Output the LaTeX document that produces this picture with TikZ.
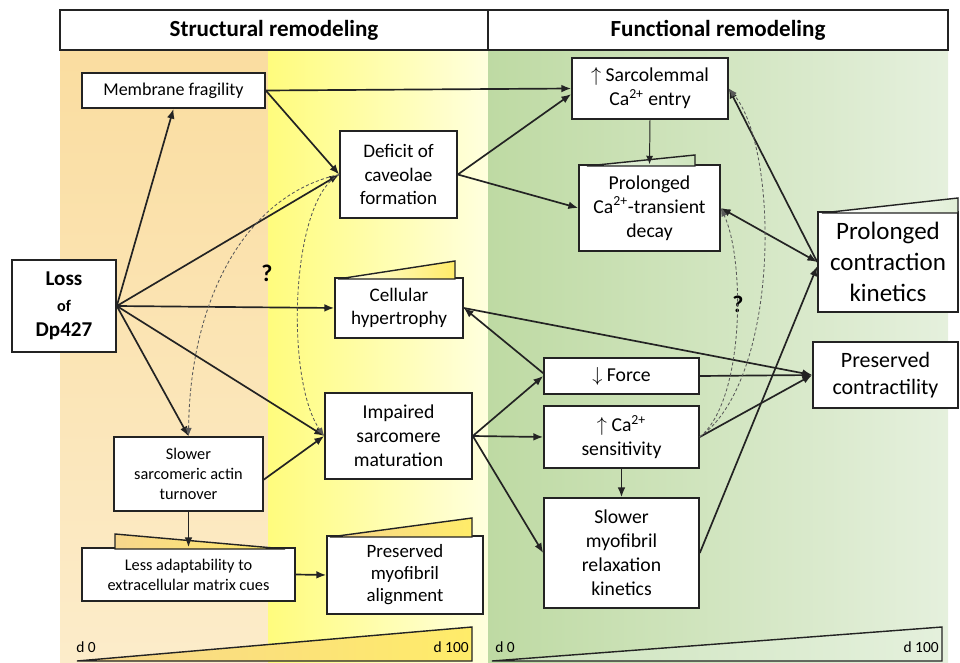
\documentclass[tikz,border=0pt]{standalone}
\usepackage{amsmath}
\usepackage{fontspec}
\setmainfont{Carlito}
\usepackage{tikz}
\usetikzlibrary{arrows,arrows.meta,positioning}
\usepackage{xcolor}
\definecolor{rmorange}{RGB}{250,221,160}
\definecolor{rmorangelight}{RGB}{252,236,202}
\definecolor{rmyellow}{RGB}{255,252,125}
\definecolor{rmyellowlight}{RGB}{255,255,222}
\definecolor{rmgreen}{RGB}{190,218,163}
\definecolor{rmgreenlight}{RGB}{229,240,221}
\definecolor{rmline}{RGB}{35,35,35}
\definecolor{rampyellow}{RGB}{255,236,105}
\definecolor{ramporange}{RGB}{247,214,140}
\definecolor{rampgreen}{RGB}{205,228,188}
\definecolor{rampgreenlight}{RGB}{228,240,220}
\newcommand{\txtsmall}{\fontsize{11.6}{14.2}\selectfont}
\newcommand{\txtmid}{\fontsize{12.8}{15}\selectfont}
\newcommand{\txtbox}{\fontsize{14}{17}\selectfont}
\newcommand{\txtbig}{\fontsize{15.6}{19.5}\selectfont}
\newcommand{\txthuge}{\fontsize{17.8}{22.2}\selectfont}
\tikzstyle{arrow} = [line width=1.2pt,->,>={Latex[length=7pt,width=5.5pt]},color=rmline]
\tikzstyle{twoway} = [line width=1.2pt,<->,>={Latex[length=7pt,width=5.5pt]},color=rmline]
\tikzstyle{thinarrow} = [line width=0.7pt,->,>={Latex[length=6pt,width=5pt]},color=rmline]
\tikzstyle{maybe} = [dashed, dash pattern=on 2.2pt off 1.6pt, line width=0.6pt, ->, >={Latex[length=6pt,width=4.5pt]}, color=black!65]
\tikzstyle{stage} = [rectangle, minimum height=1cm, draw=rmline, fill=white, line width=1.2pt, font=\fontsize{16.4}{19}\selectfont\bfseries]
\tikzstyle{effect} = [rectangle, draw=rmline, fill=white, line width=1.1pt, align=center, inner sep=2pt, font=\txtbox]
\tikzstyle{ramp} = [draw=rmline, line width=1pt]

\begin{document}
\begin{tikzpicture}[x=0.025cm, y=-0.025cm]
    \useasboundingbox (0,0) rectangle (960,663);

    % Backgrounds
    \shade[top color=rmorange, bottom color=rmorangelight] (60,50) rectangle (268,663);
    \shade[left color=rmyellow, right color=rmyellowlight] (268,50) rectangle (488,663);
    \shade[left color=rmgreen, right color=rmgreenlight] (488,50) rectangle (948,663);

    % Headers
    \node[stage, minimum width=10.7cm] (structural) at (274,30) {Structural remodeling};
    \node[stage, minimum width=11.5cm] (functional) at (718,30) {Functional remodeling};

    % Structural side
    \node[effect, minimum width=2.6cm, minimum height=2.3cm, font=\fontsize{15}{18}\selectfont\bfseries] (loss) at (64,306) {Loss\\{\fontsize{11.5}{18}\selectfont of}\\Dp427};
    \node[effect, minimum width=4.575cm, minimum height=0.875cm, font=\txtmid] (memb) at (173.5,90.5) {Membrane fragility};
    \node[effect, minimum width=2.925cm, minimum height=2.175cm, font=\fontsize{13.6}{17}\selectfont] (deficit) at (398.5,174.5) {Deficit of\\caveolae\\formation};
    \node[effect, minimum width=3.2cm, minimum height=1.5cm, font=\fontsize{13.6}{16.4}\selectfont] (hyper) at (399,308) {Cellular\\hypertrophy};
    \node[effect, minimum width=3.675cm, minimum height=2.15cm] (impaired) at (398.5,436) {Impaired\\sarcomere\\maturation};
    \node[effect, minimum width=3.725cm, minimum height=1.85cm, font=\txtsmall] (actin) at (188.5,474) {Slower\\sarcomeric actin\\turnover};
    \node[effect, minimum width=5.325cm, minimum height=1.325cm, font=\txtsmall] (adapt) at (188.5,574.5) {Less adaptability to\\extracellular matrix cues};
    \node[effect, minimum width=3.9cm, minimum height=1.95cm, font=\fontsize{13.4}{15.6}\selectfont] (align) at (405,575) {Preserved\\myofibril\\alignment};

    % Functional side
    \node[effect, minimum width=3.9cm, minimum height=1.525cm] (sarco) at (650,88.5) {$\uparrow$ Sarcolemmal\\Ca\textsuperscript{2+} entry};
    \node[effect, minimum width=3.525cm, minimum height=2.15cm] (transient) at (649.5,208) {Prolonged\\Ca\textsuperscript{2+}-transient\\decay};
    \node[effect, minimum width=3.5cm, minimum height=2.5cm, font=\txthuge] (kinetics) at (888,262) {Prolonged\\contraction\\kinetics};
    \node[effect, minimum width=3.625cm, minimum height=1.65cm, font=\txtbig] (contract) at (885.5,375) {Preserved\\contractility};
    \node[effect, minimum width=3.875cm, minimum height=0.9cm] (force) at (621.5,376) {$\downarrow$ Force};
    \node[effect, minimum width=3.875cm, minimum height=1.55cm] (sens) at (621.5,437) {$\uparrow$ Ca\textsuperscript{2+}\\sensitivity};
    \node[effect, minimum width=3.875cm, minimum height=2.75cm] (relax) at (621.5,553) {Slower\\myofibril\\relaxation\\kinetics};

    % Ramps on boxes
    \shade[ramp, left color=yellow!10, right color=rampyellow] (338,279) -- (455,261) -- (455,279) -- cycle;
    \shade[ramp, left color=rampgreen!40, right color=rampgreen] (587,166) -- (695,155) -- (695,166) -- cycle;
    \shade[ramp, left color=white, right color=rampgreen!60] (822,213) -- (958,198) -- (958,213) -- cycle;
    \shade[ramp, left color=ramporange, right color=rampyellow] (115,534) -- (115,549) -- (285,549) -- cycle;
    \shade[ramp, left color=ramporange, right color=rampyellow] (330,537) -- (472,518) -- (472,537) -- cycle;

    % Time ramps
    \shade[ramp, left color=ramporange, right color=rampyellow] (77,661) -- (472,627) -- (472,661) -- cycle;
    \shade[ramp, left color=rampgreen, right color=rampgreenlight] (492,661) -- (942,627) -- (942,661) -- cycle;
    \node[font=\fontsize{11}{12}\selectfont, anchor=west, inner sep=0pt] (s0) at (76,647) {d 0};
    \node[font=\fontsize{11}{12}\selectfont, anchor=east, inner sep=0pt] (s100) at (469,647) {d 100};
    \node[font=\fontsize{11}{12}\selectfont, anchor=west, inner sep=0pt] (f0) at (495,647) {d 0};
    \node[font=\fontsize{11}{12}\selectfont, anchor=east, inner sep=0pt] (f100) at (939,647) {d 100};

    % Question marks
    \node[font=\fontsize{17}{18}\selectfont\bfseries] (q1) at (267,273) {?};
    \node[font=\fontsize{17}{18}\selectfont\bfseries] (q2) at (738,304) {?};

    % Arrows from Loss
    \draw[arrow] (loss.east) -- (memb.south);
    \draw[arrow] (loss.east) -- (deficit.west);
    \draw[arrow] (loss.east) -- (hyper.west);
    \draw[arrow] (loss.east) -- (impaired.west);
    \draw[arrow] (loss.east) -- (actin.north);

    % Structural arrows
    \draw[arrow] (memb.east) -- (deficit.west);
    \draw[arrow] (memb.east) -- (sarco.west);
    \draw[arrow] ([yshift=-4pt]actin.east) -- (impaired.west);
    \draw[arrow] (actin.south) -- (adapt.north);
    \draw[arrow] (adapt.east) -- (align.west);

    % Functional arrows
    \draw[arrow] (deficit.east) -- ([yshift=-4pt]sarco.west);
    \draw[arrow] (deficit.east) -- (transient.west);
    \draw[thinarrow] (sarco.south) -- (transient.north);
    \draw[arrow] (kinetics.west) -- (sarco.east);
    \draw[twoway] (transient.east) -- (kinetics.west);
    \draw[arrow] (relax.east) -- ([yshift=-3pt]kinetics.west);
    \draw[arrow] (impaired.east) -- (force.west);
    \draw[arrow] (impaired.east) -- (sens.west);
    \draw[arrow] (impaired.east) -- (relax.west);
    \draw[arrow] ([yshift=2pt]force.west) -- (hyper.east);
    \draw[arrow] (hyper.east) -- (contract.west);
    \draw[arrow] (force.east) -- (contract.west);
    \draw[arrow] (sens.east) -- (contract.west);
    \draw[arrow] (sens.south) -- (relax.north);

    % Uncertain links
    \draw[maybe] (deficit.west) .. controls (245,195) and (190,300) .. (actin.north);
    \draw[maybe] (deficit.west) .. controls (290,200) and (285,380) .. (impaired.west);
    \draw[maybe] (sens.east) .. controls (745,400) and (745,260) .. (transient.east);
    \draw[maybe] (sens.east) .. controls (780,380) and (780,150) .. (sarco.east);
\end{tikzpicture}
\end{document}
